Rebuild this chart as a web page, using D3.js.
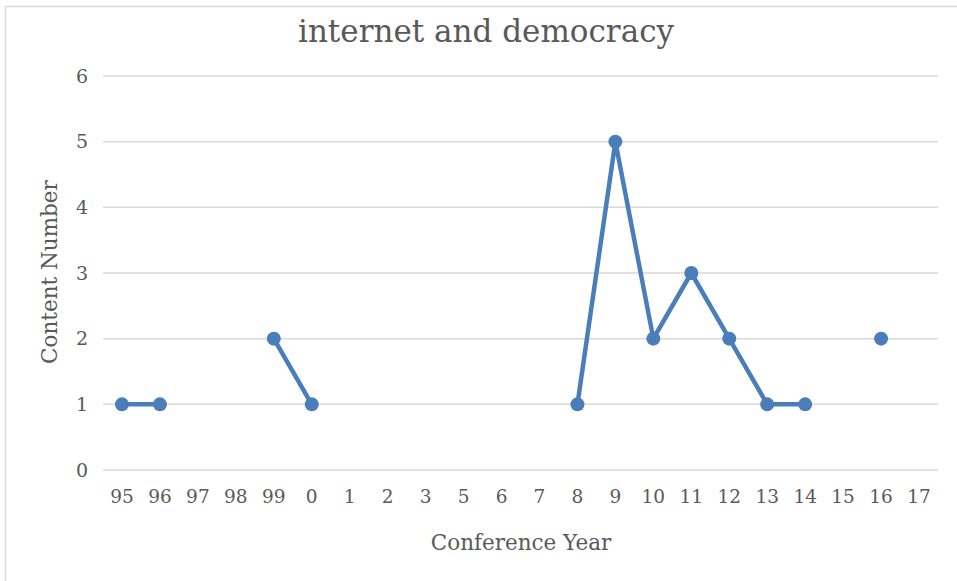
<!DOCTYPE html>
<html><head><meta charset="utf-8">
<script src="https://cdn.jsdelivr.net/npm/d3@7"></script>
<style>html,body{margin:0;padding:0;background:#fff;}svg{display:block;}</style>
</head><body>
<svg id="chart" width="957" height="581"></svg>
<script>
const categories = ["95","96","97","98","99","0","1","2","3","5","6","7","8","9","10","11","12","13","14","15","16","17"];
const values = [1,1,null,null,2,1,null,null,null,null,null,null,1,5,2,3,2,1,1,null,2,null];
const yTicks = [0,1,2,3,4,5,6];
const titleText = "internet and democracy";
const xTitle = "Conference Year";
const yTitle = "Content Number";

(function(){
const svg = d3.select("#chart");
const font = "'DejaVu Serif', serif";
const textColor = "#595959";
const lineColor = "#4a7ebb";

svg.append("path").attr("d","M5.5,581 L5.5,6.5 L957,6.5").attr("fill","none").attr("stroke","#d9d9d9").attr("stroke-width",1.5);

const pl = 103, pr = 938, pt = 76, pb = 470;
const x = d3.scaleBand().domain(categories).range([pl,pr]);
const y = d3.scaleLinear().domain([0,6]).range([pb,pt]);

svg.append("g").selectAll("line").data(yTicks).join("line")
  .attr("x1",pl).attr("x2",pr)
  .attr("y1",d=>y(d)).attr("y2",d=>y(d))
  .attr("stroke","#d9d9d9").attr("stroke-width",1.5);

const yAxis = d3.axisLeft(y).tickValues(yTicks).tickFormat(d3.format("d")).tickSize(0).tickPadding(0);
const gy = svg.append("g").attr("transform",`translate(88,0)`).call(yAxis);
gy.select(".domain").remove();
gy.selectAll("text").attr("font-family",font).attr("font-size",19).attr("fill",textColor);

const xAxis = d3.axisBottom(x).tickSize(0).tickPadding(0);
const gx = svg.append("g").attr("transform",`translate(0,490)`).call(xAxis);
gx.select(".domain").remove();
gx.selectAll("text").attr("font-family",font).attr("font-size",18.5).attr("fill",textColor);

const cx = d => x(d) + x.bandwidth()/2;
const pts = categories.map((c,i)=>({c, v:values[i]}));

const line = d3.line().defined(d=>d.v!=null).x(d=>cx(d.c)).y(d=>y(d.v));
svg.append("path").datum(pts).attr("d",line).attr("fill","none")
  .attr("stroke",lineColor).attr("stroke-width",4.5).attr("stroke-linejoin","round");

svg.append("g").selectAll("circle").data(pts.filter(d=>d.v!=null)).join("circle")
  .attr("cx",d=>cx(d.c)).attr("cy",d=>y(d.v)).attr("r",7).attr("fill",lineColor);

svg.append("text").attr("x",486).attr("y",42).attr("text-anchor","middle")
  .attr("font-family",font).attr("font-size",31).attr("fill",textColor).text(titleText);
svg.append("text").attr("x",521).attr("y",550).attr("text-anchor","middle")
  .attr("font-family",font).attr("font-size",21.5).attr("fill",textColor).text(xTitle);
svg.append("text").attr("transform","translate(57,272) rotate(-90)").attr("text-anchor","middle")
  .attr("font-family",font).attr("font-size",21.5).attr("fill",textColor).text(yTitle);
})();
</script>
</body></html>
